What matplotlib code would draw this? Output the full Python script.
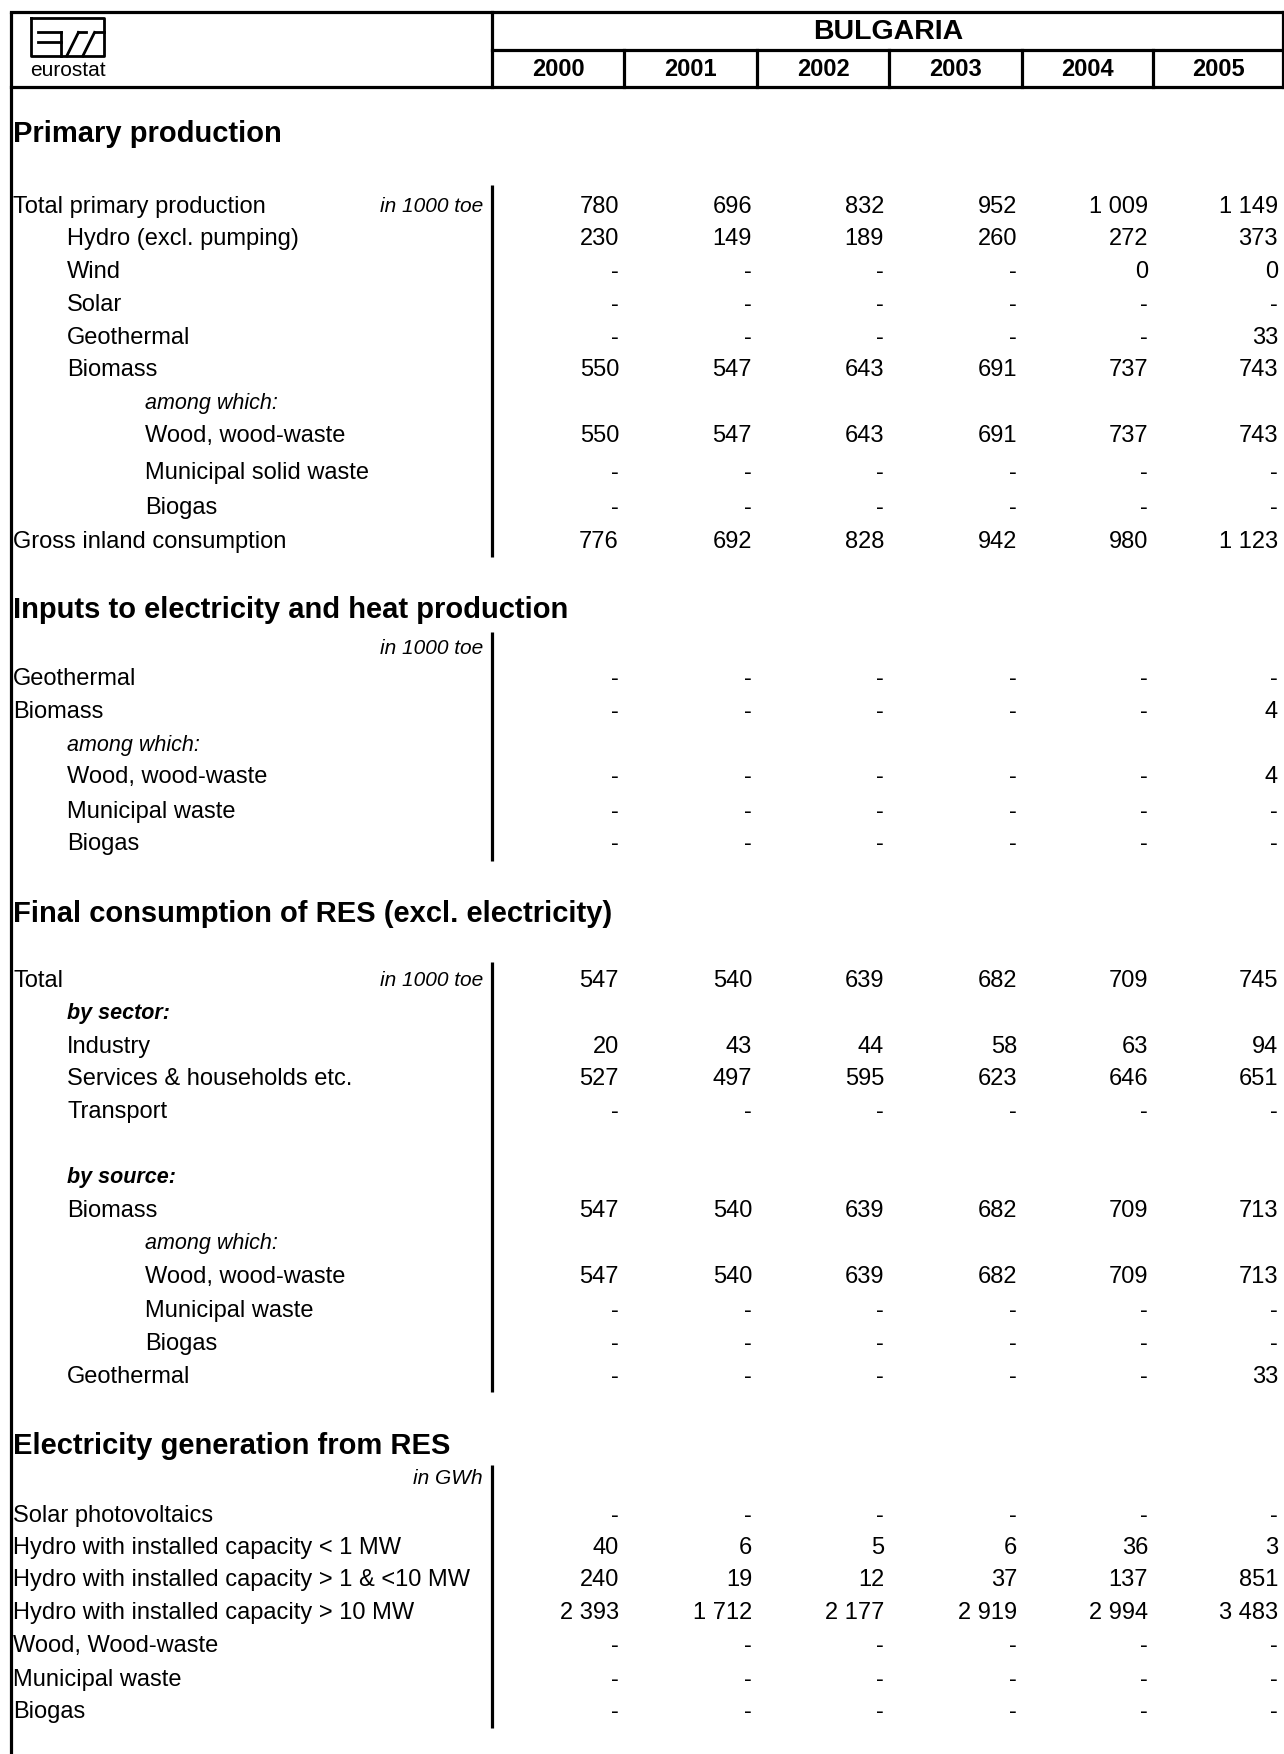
import matplotlib
matplotlib.use("Agg")
import matplotlib.pyplot as plt

# ---------------- data ----------------
country = "BULGARIA"
years = ["2000", "2001", "2002", "2003", "2004", "2005"]
NA = None

# Primary production (1000 toe)
total_primary = [780, 696, 832, 952, 1009, 1149]
hydro = [230, 149, 189, 260, 272, 373]
wind = [NA, NA, NA, NA, 0, 0]
solar = [NA] * 6
geothermal_prim = [NA, NA, NA, NA, NA, 33]
biomass_prim = [550, 547, 643, 691, 737, 743]
wood_prim = [550, 547, 643, 691, 737, 743]
msw_prim = [NA] * 6
biogas_prim = [NA] * 6
gross_inland = [776, 692, 828, 942, 980, 1123]

# Inputs to electricity and heat production (1000 toe)
geothermal_in = [NA] * 6
biomass_in = [NA, NA, NA, NA, NA, 4]
wood_in = [NA, NA, NA, NA, NA, 4]
mw_in = [NA] * 6
biogas_in = [NA] * 6

# Final consumption of RES (1000 toe)
total_final = [547, 540, 639, 682, 709, 745]
industry = [20, 43, 44, 58, 63, 94]
services = [527, 497, 595, 623, 646, 651]
transport = [NA] * 6
biomass_final = [547, 540, 639, 682, 709, 713]
wood_final = [547, 540, 639, 682, 709, 713]
mw_final = [NA] * 6
biogas_final = [NA] * 6
geothermal_final = [NA, NA, NA, NA, NA, 33]

# Electricity generation from RES (GWh)
solar_pv = [NA] * 6
hydro_lt1 = [40, 6, 5, 6, 36, 3]
hydro_1_10 = [240, 19, 12, 37, 137, 851]
hydro_gt10 = [2393, 1712, 2177, 2919, 2994, 3483]
wood_elec = [NA] * 6
mw_elec = [NA] * 6
biogas_elec = [NA] * 6

# rows: (label, values, indent level, style, unit)
rows = [
    ("Primary production", None, 0, "section", None),
    ("Total primary production", total_primary, 0, "normal", "in 1000 toe"),
    ("Hydro (excl. pumping)", hydro, 1, "normal", None),
    ("Wind", wind, 1, "normal", None),
    ("Solar", solar, 1, "normal", None),
    ("Geothermal", geothermal_prim, 1, "normal", None),
    ("Biomass", biomass_prim, 1, "normal", None),
    ("among which:", None, 2, "italic", None),
    ("Wood, wood-waste", wood_prim, 2, "normal", None),
    ("Municipal solid waste", msw_prim, 2, "normal", None),
    ("Biogas", biogas_prim, 2, "normal", None),
    ("Gross inland consumption", gross_inland, 0, "normal", None),
    ("Inputs to electricity and heat production", None, 0, "section", None),
    ("", None, 0, "unitrow", "in 1000 toe"),
    ("Geothermal", geothermal_in, 0, "normal", None),
    ("Biomass", biomass_in, 0, "normal", None),
    ("among which:", None, 1, "italic", None),
    ("Wood, wood-waste", wood_in, 1, "normal", None),
    ("Municipal waste", mw_in, 1, "normal", None),
    ("Biogas", biogas_in, 1, "normal", None),
    ("Final consumption of RES (excl. electricity)", None, 0, "section", None),
    ("Total", total_final, 0, "normal", "in 1000 toe"),
    ("by sector:", None, 1, "bolditalic", None),
    ("Industry", industry, 1, "normal", None),
    ("Services & households etc.", services, 1, "normal", None),
    ("Transport", transport, 1, "normal", None),
    ("by source:", None, 1, "bolditalic", None),
    ("Biomass", biomass_final, 1, "normal", None),
    ("among which:", None, 2, "italic", None),
    ("Wood, wood-waste", wood_final, 2, "normal", None),
    ("Municipal waste", mw_final, 2, "normal", None),
    ("Biogas", biogas_final, 2, "normal", None),
    ("Geothermal", geothermal_final, 1, "normal", None),
    ("Electricity generation from RES", None, 0, "section", None),
    ("", None, 0, "unitrow", "in GWh"),
    ("Solar photovoltaics", solar_pv, 0, "normal", None),
    ("Hydro with installed capacity < 1 MW", hydro_lt1, 0, "normal", None),
    ("Hydro with installed capacity > 1 & <10 MW", hydro_1_10, 0, "normal", None),
    ("Hydro with installed capacity > 10 MW", hydro_gt10, 0, "normal", None),
    ("Wood, Wood-waste", wood_elec, 0, "normal", None),
    ("Municipal waste", mw_elec, 0, "normal", None),
    ("Biogas", biogas_elec, 0, "normal", None),
]

# ---------------- layout (pixels) ----------------
W, H = 1284, 1754
row_y = [134, 207, 239, 272, 305, 338, 370, 404, 436, 473, 508, 542,
         610, 648, 679, 712, 745, 777, 812, 844,
         914, 981, 1013, 1047, 1079, 1112, 1177, 1211, 1244, 1277, 1311, 1344, 1377,
         1446, 1479, 1516, 1548, 1580, 1613, 1646, 1680, 1712]
sep_segments = [(185, 557), (632, 861), (962, 1392), (1465, 1728)]
indent_x = [13, 67, 145]
left_x = 11
top_y = 12
mid_y = 50
head_bot = 87
label_sep = 492
col_edges = [492, 624, 757, 889, 1022, 1153, 1283]
FONT = "Liberation Sans"
BODY = 17
LW = 2.3

fig = plt.figure(figsize=(W / 100, H / 100), dpi=100)
ax = fig.add_axes([0, 0, 1, 1])
ax.set_xlim(0, W)
ax.set_ylim(H, 0)
ax.axis("off")


def fmt(v):
    if v is None:
        return "-"
    return f"{v:,}".replace(",", " ")


# frame and header lines
ax.plot([left_x, left_x], [top_y, H], color="black", lw=LW, solid_capstyle="butt")
ax.plot([left_x, W], [top_y, top_y], color="black", lw=LW)
ax.plot([left_x, W], [head_bot, head_bot], color="black", lw=LW)
ax.plot([label_sep, W], [mid_y, mid_y], color="black", lw=LW)
ax.plot([label_sep, label_sep], [top_y, head_bot], color="black", lw=LW)
ax.plot([W - 1.5, W - 1.5], [top_y, head_bot], color="black", lw=LW)
for xe in col_edges[1:-1]:
    ax.plot([xe, xe], [mid_y, head_bot], color="black", lw=LW)

ax.text((label_sep + W) / 2, (top_y + mid_y) / 2 + 1, country, ha="center", va="center",
        fontsize=20.5, fontweight="bold", family=FONT)
for i, yr in enumerate(years):
    cx = (col_edges[i] + col_edges[i + 1]) / 2
    ax.text(cx, (mid_y + head_bot) / 2 + 1, yr, ha="center", va="center",
            fontsize=17, fontweight="bold", family=FONT)

# eurostat logo
bx0, bx1, by0, by1 = 31, 104, 18, 56
ax.plot([bx0, bx1, bx1, bx0, bx0], [by0, by0, by1, by1, by0], color="black", lw=2.0)
bw, bh = bx1 - bx0, by1 - by0
logo_lines = [
    [(0.10, 0.38), (0.41, 0.38)],
    [(0.10, 0.64), (0.41, 0.64)],
    [(0.41, 0.38), (0.41, 1.0)],
    [(0.49, 1.0), (0.65, 0.38)],
    [(0.65, 0.38), (0.76, 0.38)],
    [(0.71, 1.0), (0.87, 0.38)],
    [(0.87, 0.38), (1.0, 0.38)],
]
for (u0, v0), (u1, v1) in logo_lines:
    ax.plot([bx0 + u0 * bw, bx0 + u1 * bw], [by0 + v0 * bh, by0 + v1 * bh],
            color="black", lw=2.0)
ax.text((bx0 + bx1) / 2, 71, "eurostat", ha="center", va="center",
        fontsize=15, family=FONT)

# separators in label column
for y0, y1 in sep_segments:
    ax.plot([label_sep, label_sep], [y0, y1], color="black", lw=LW, solid_capstyle="butt")

# rows
for (label, vals, lvl, style, unit), y in zip(rows, row_y):
    x = indent_x[lvl]
    if style == "section":
        ax.text(x, y, label, ha="left", va="center", fontsize=21,
                fontweight="bold", family=FONT)
    elif style == "italic":
        ax.text(x, y, label, ha="left", va="center", fontsize=15.5,
                style="italic", family=FONT)
    elif style == "bolditalic":
        ax.text(x, y, label, ha="left", va="center", fontsize=15.5,
                style="italic", fontweight="bold", family=FONT)
    elif style == "normal":
        ax.text(x, y, label, ha="left", va="center", fontsize=BODY, family=FONT)
    if unit is not None:
        ax.text(label_sep - 9, y, unit, ha="right", va="center", fontsize=15,
                style="italic", family=FONT)
    if vals is not None:
        for i, v in enumerate(vals):
            ax.text(col_edges[i + 1] - 5, y, fmt(v), ha="right", va="center",
                    fontsize=BODY, family=FONT)

fig.savefig("out.png", dpi=100, facecolor="white")
